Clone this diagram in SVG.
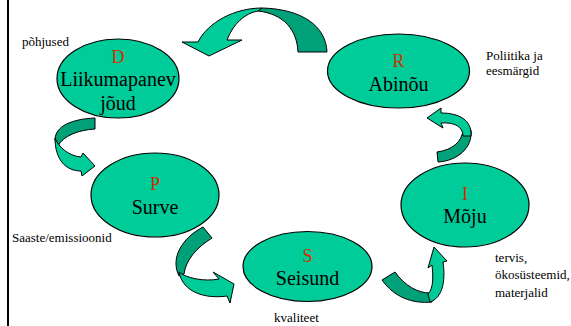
<svg xmlns="http://www.w3.org/2000/svg" width="571" height="326" viewBox="0 0 571 326">
<style>
.n{fill:#00CC99;stroke:#000;stroke-width:1.2}
.lt{fill:#00CC99;stroke:#000;stroke-width:1;stroke-linejoin:round}
.dk{fill:#00A078;stroke:#000;stroke-width:1;stroke-linejoin:round}
.big{font-size:20px;fill:#000;text-anchor:middle}
.let{font-size:18px;fill:#CC3300;text-anchor:middle}
.sm{font-size:13px;fill:#000}
</style>
<rect width="571" height="326" fill="#fff"/>
<line x1="8" y1="0" x2="8" y2="326" stroke="#000" stroke-width="2"/>

<g id="connectors">
  <!-- R -> D (top) -->
  <path class="dk" d="M298,52 C297,30 284,14 258,11 L262,8 C302,9 326,26 327,52 Z"/>
  <path class="lt" d="M262,8 C235,8 208,22 198,42 L182,42 L209,56 L242,40 L227,40 C233,24 245,13 258,11 Z"/>
  <!-- D -> P -->
  <path class="dk" d="M95,118 L95,129 C78,130 63,136 58,146 L55,140 C55,126 72,119 95,118 Z"/>
  <path class="lt" d="M55,138 C58,146 68,156 81,157 L83,153 L95,166 L82,176 L81,171 C66,171 55,160 55,138 Z"/>
  <!-- P -> S -->
  <path class="dk" d="M203,227 L212,238 C196,248 186,260 184,274 L179,276 C170,258 182,238 203,227 Z"/>
  <path class="lt" d="M179,272 C186,278 204,282 219,279 L213,272 L234,284 L230,303 L227,296 C206,299 183,293 179,272 Z"/>
  <!-- S -> I -->
  <path class="dk" d="M382,280 L395,272 C405,286 418,293 430,293 L432,302 C412,304 394,297 382,280 Z"/>
  <path class="lt" d="M428,294 C434,288 433,275 432,265 L428,268 L434,247 L447,261 L443,262 C446,282 442,298 430,302 Z"/>
  <!-- I -> R -->
  <path class="dk" d="M463,130 L471,130 C473,148 457,161 438,162 L437,152 C452,150 462,142 463,130 Z"/>
  <path class="lt" d="M441,108 L427,118 L443,128 L441,123 C455,122 463,127 463,136 L471,136 C472,120 459,113 441,113 Z"/>
</g>

<g font-family="Liberation Serif, DejaVu Serif, serif">
<g id="node-D">
  <ellipse class="n" cx="118" cy="78.5" rx="61" ry="39.5"/>
  <text class="let" x="118" y="63">D</text>
  <text class="big" x="118" y="86">Liikumapanev</text>
  <text class="big" x="118" y="110">jõud</text>
</g>
<g id="node-R">
  <ellipse class="n" cx="398.5" cy="71" rx="71" ry="37"/>
  <text class="let" x="398.5" y="67">R</text>
  <text class="big" x="398.5" y="91">Abinõu</text>
</g>
<g id="node-P">
  <ellipse class="n" cx="155" cy="195" rx="64" ry="42"/>
  <text class="let" x="155" y="190">P</text>
  <text class="big" x="155" y="214">Surve</text>
</g>
<g id="node-S">
  <ellipse class="n" cx="307.5" cy="266.5" rx="64.5" ry="35"/>
  <text class="let" x="307.5" y="262">S</text>
  <text class="big" x="307.5" y="285">Seisund</text>
</g>
<g id="node-I">
  <ellipse class="n" cx="465" cy="205" rx="64" ry="42"/>
  <text class="let" x="465" y="200">I</text>
  <text class="big" x="465" y="223">Mõju</text>
</g>

<g id="labels">
  <text class="sm" x="22" y="46">põhjused</text>
  <text class="sm" x="486" y="60">Poliitika ja</text>
  <text class="sm" x="486" y="75">eesmärgid</text>
  <text class="sm" x="12" y="242">Saaste/emissioonid</text>
  <text class="sm" x="274" y="322">kvaliteet</text>
  <text class="sm" x="495" y="262">tervis,</text>
  <text class="sm" x="495" y="279">ökosüsteemid,</text>
  <text class="sm" x="495" y="297">materjalid</text>
</g>
</g>
</svg>
